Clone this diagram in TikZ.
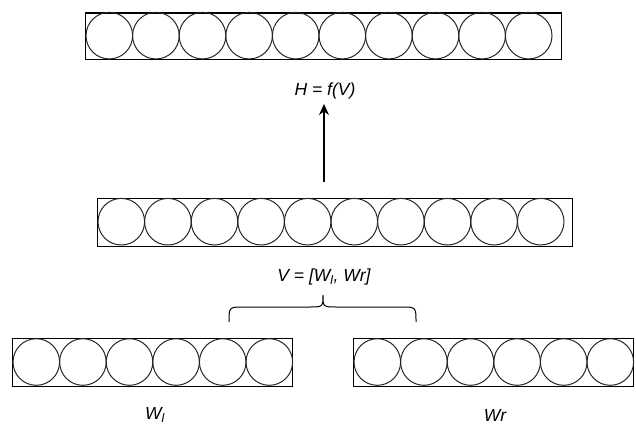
\documentclass[tikz,border=0pt]{standalone}
\usepackage{fontspec}
\setmainfont{Liberation Sans}
\usetikzlibrary{arrows.meta}
\begin{document}
\begin{tikzpicture}[x=1pt,y=-1pt,
  boxline/.style={draw=black,line width=1.2pt},
  unit/.style={draw=black!85,line width=1pt},
  lbl/.style={font=\fontsize{17.5}{20}\selectfont\itshape,inner sep=0pt},
  arr/.style={-{Stealth[length=11pt,width=10pt]},line width=1.3pt}]
\useasboundingbox (0,0) rectangle (636,426);
\newcommand{\layer}[6]{% name, x0, y0, x1, y1, n
  \node[boxline,rectangle,minimum width=#4-#2,minimum height=#5-#3,inner sep=0pt,anchor=north west] (#1) at (#2,#3) {};
  \foreach \i in {1,...,#6} {
    \draw[unit] ({#2+1+23.3*(2*\i-1)},{(#3+#5)/2}) circle[radius=23.3];
  }
}
\layer{top}{85}{12.3}{561}{59}{10}
\layer{mid}{97}{197.7}{572}{245.7}{10}
\layer{left}{12}{338}{292}{386}{6}
\layer{right}{353}{338}{633}{386}{6}
\node[lbl] (H) at (325,91) {H = f(V)};
\node[lbl] (V) at (324,277) {V = [W\textsubscript{l}, Wr]};
\node[lbl] (Wl) at (155,415) {W\textsubscript{l}};
\node[lbl] (Wr) at (495,415) {Wr};
\coordinate (as) at (324,182);
\draw[arr] (as) -- (324,104);
\draw[line width=1pt] (229,322) .. controls (229,307) .. (244,307) -- (309,307) .. controls (323,307) .. (323,295)
  .. controls (323,307) .. (337,307) -- (401,307) .. controls (416,307) .. (416,322);
\end{tikzpicture}
\end{document}
